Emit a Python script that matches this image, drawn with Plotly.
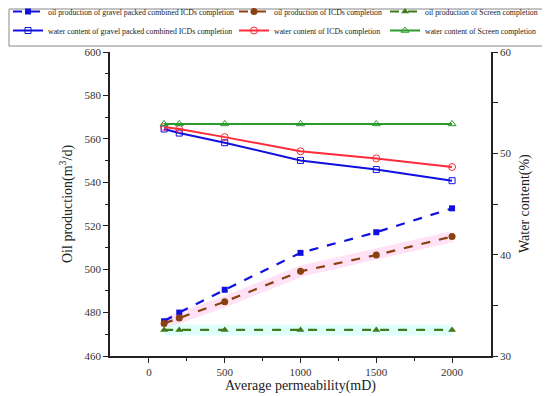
import plotly.graph_objects as go

perm = [100, 200, 500, 1000, 1500, 2000]
oil_gravel = [476, 480, 490.5, 507.5, 517, 528]
oil_icd = [475, 477.5, 485, 499, 506.5, 515]
oil_screen = [472, 472, 472, 472, 472, 472]
water_gravel = [52.4, 52.0, 51.05, 49.3, 48.4, 47.3]
water_icd = [52.6, 52.4, 51.6, 50.2, 49.5, 48.65]
water_screen = [52.9, 52.9, 52.9, 52.9, 52.9, 52.9]

FONT = "Liberation Serif"
BLUE = "#1010e0"
RED = "#ff2a3a"
BROWN = "#8B4010"
OLIVE = "#3f7a1c"
GREEN = "#2a9a2a"

L, R, T, B = 102, 67, 44, 48
W, H = 550, 396
PW, PH = W - L - R, H - T - B

fig = go.Figure()

# background highlight bands
fig.add_trace(go.Scatter(x=perm, y=oil_icd, mode="lines", showlegend=False, hoverinfo="skip",
                         line=dict(color="rgba(255,190,235,0.45)", width=11)))
fig.add_trace(go.Scatter(x=perm, y=oil_screen, mode="lines", showlegend=False, hoverinfo="skip",
                         line=dict(color="rgba(200,255,245,0.55)", width=11)))

fig.add_trace(go.Scatter(x=perm, y=oil_gravel, name="oil production of gravel packed combined ICDs completion",
                         legend="legend", mode="lines+markers",
                         line=dict(color=BLUE, width=2.2, dash="dash"),
                         marker=dict(symbol="square", size=6, color=BLUE)))
fig.add_trace(go.Scatter(x=perm, y=water_gravel, name="water content of gravel packed combined ICDs completion",
                         legend="legend", mode="lines+markers", yaxis="y2",
                         line=dict(color=BLUE, width=2),
                         marker=dict(symbol="square-open", size=6, color=BLUE, line=dict(width=1))))
fig.add_trace(go.Scatter(x=perm, y=oil_icd, name="oil production of ICDs completion",
                         legend="legend2", mode="lines+markers",
                         line=dict(color=BROWN, width=2.2, dash="dash"),
                         marker=dict(symbol="circle", size=7, color=BROWN)))
fig.add_trace(go.Scatter(x=perm, y=water_icd, name="water content of ICDs completion",
                         legend="legend2", mode="lines+markers", yaxis="y2",
                         line=dict(color=RED, width=2),
                         marker=dict(symbol="circle-open", size=7, color=RED, line=dict(width=1))))
fig.add_trace(go.Scatter(x=perm, y=oil_screen, name="oil production of Screen completion",
                         legend="legend3", mode="lines+markers",
                         line=dict(color=OLIVE, width=2.2, dash="dash"),
                         marker=dict(symbol="triangle-up", size=7, color=OLIVE)))
fig.add_trace(go.Scatter(x=perm, y=water_screen, name="water content of Screen completion",
                         legend="legend3", mode="lines+markers", yaxis="y2",
                         line=dict(color=GREEN, width=2),
                         marker=dict(symbol="triangle-up-open", size=7, color=GREEN, line=dict(width=1))))

axis_common = dict(showgrid=False, zeroline=False, showline=True, linecolor="#222", linewidth=1.5,
                   ticks="outside", ticklen=5, tickwidth=1.2, tickcolor="#222",
                   tickfont=dict(family=FONT, size=11, color="#333"))

def px_x(p):
    return (p - L) / PW

def px_y(p):
    return 1 - (p - T) / PH

title_font = dict(family=FONT, size=14, color="#222")

leg_common = dict(orientation="v", xref="paper", yref="paper", y=px_y(-11),
                  xanchor="left", yanchor="top", bgcolor="rgba(0,0,0,0)", borderwidth=0,
                  font=dict(family=FONT, size=7.8, color="#222"), itemwidth=30, tracegroupgap=0)

fig.update_layout(
    width=W, height=H,
    margin=dict(l=L, r=R, t=T, b=B, autoexpand=False),
    plot_bgcolor="white", paper_bgcolor="white",
    font=dict(family=FONT, color="#222"),
    xaxis=dict(range=[-257, 2257], tickvals=[0, 500, 1000, 1500, 2000],
               minor=dict(tickvals=[250, 750, 1250, 1750], ticks="outside", ticklen=3, tickcolor="#222"),
               **axis_common),
    yaxis=dict(range=[460, 600], tickvals=[460, 480, 500, 520, 540, 560, 580, 600],
               minor=dict(tickvals=[470, 490, 510, 530, 550, 570, 590], ticks="outside", ticklen=3, tickcolor="#222"),
               **axis_common),
    yaxis2=dict(range=[30, 60], overlaying="y", side="right", tickvals=[30, 40, 50, 60],
                minor=dict(tickvals=[35, 45, 55], ticks="outside", ticklen=5, tickcolor="#222"),
                **axis_common),
    legend=dict(x=px_x(0), **leg_common),
    legend2=dict(x=px_x(226), **leg_common),
    legend3=dict(x=px_x(377), **leg_common),
    annotations=[
        dict(text="Average permeability(mD)", xref="paper", yref="paper", x=0.5, y=px_y(378),
             xanchor="center", yanchor="middle", showarrow=False, font=title_font),
        dict(text="Oil production(m<sup>3</sup>/d)", xref="paper", yref="paper", x=px_x(58), y=0.5,
             xanchor="center", yanchor="middle", showarrow=False, textangle=-90, font=title_font),
        dict(text="Water content(%)", xref="paper", yref="paper", x=px_x(517), y=0.5,
             xanchor="center", yanchor="middle", showarrow=False, textangle=-90, font=title_font),
    ],
    shapes=[dict(type="rect", xref="paper", yref="paper",
                 x0=px_x(1), x1=px_x(548), y0=px_y(38), y1=px_y(1),
                 line=dict(color="#888", width=1), fillcolor="rgba(0,0,0,0)", layer="below")],
)

fig.write_html("out.html")
